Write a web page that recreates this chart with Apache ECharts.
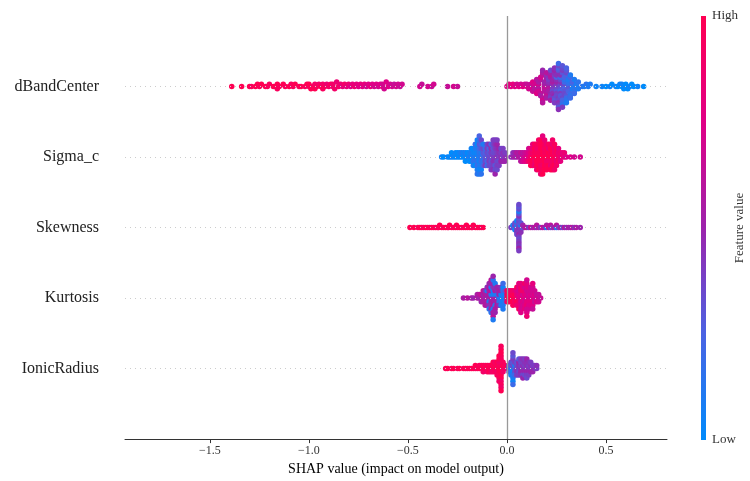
<!DOCTYPE html>
<html>
<head>
<meta charset="utf-8">
<script src="https://cdn.jsdelivr.net/npm/echarts@6/dist/echarts.min.js"></script>
<style>html,body{margin:0;padding:0;background:#fff}#c{width:750px;height:481px}</style>
</head>
<body>
<div id="c"></div>
<script>
// Features, top to bottom
const features = ['dBandCenter', 'Sigma_c', 'Skewness', 'Kurtosis', 'IonicRadius'];
const xTicks = [-1.5, -1.0, -0.5, 0.0, 0.5];
const colorLabels = ['High', 'Low'];
// Each point: [SHAP value, normalized feature value (0 = low, 1 = high)]
const dBandCenterPts = [
[-1.39,1],[-1.34,1],[-1.30,1],[-1.29,.95],[-1.27,1],[-1.26,1],[-1.25,.95],[-1.24,1],[-1.22,1],[-1.21,.95],[-1.20,.95],[-1.18,1],[-1.17,1],[-1.16,1],[-1.16,.95],[-1.15,.95],[-1.13,1],[-1.12,.95],[-1.10,1],[-1.09,.95],[-1.08,.95],[-1.07,1],[-1.05,.95],[-1.04,1],[-1.02,.95],[-1.01,1],[-1.00,.9],[-1.00,1],[-0.99,1],[-0.98,.95],[-0.97,.9],[-0.97,1],[-0.96,.95],[-0.95,.9],[-0.94,1],[-0.93,.9],[-0.93,.95],[-0.92,.95],[-0.91,.85],[-0.90,.9],[-0.89,.95],[-0.88,.85],[-0.88,.9],[-0.87,.9],[-0.86,.85],[-0.85,.9],[-0.84,.85],[-0.83,.8],[-0.82,.9],[-0.81,.8],[-0.80,.85],[-0.79,.75],[-0.78,.8],[-0.77,.85],[-0.76,.8],[-0.75,.75],[-0.74,.8],[-0.73,.75],[-0.72,.8],[-0.71,.7],[-0.70,.75],[-0.69,.8],[-0.68,.75],[-0.67,.7],[-0.66,.75],[-0.65,.7],[-0.64,.75],[-0.63,.8],[-0.63,.7],[-0.62,.7],[-0.61,.75],[-0.60,.75],[-0.59,.7],[-0.58,.7],[-0.57,.65],[-0.56,.7],[-0.55,.7],[-0.54,.65],[-0.53,.7],
[-0.44,.7],[-0.43,.65],[-0.40,.7],[-0.38,.65],[-0.37,.7],[-0.30,.65],[-0.27,.7],[-0.25,.65],
[0.00,.75],[0.01,.8],[0.02,.75],[0.03,.8],[0.04,.75],[0.05,.7],[0.06,.75],[0.07,.7],[0.08,.75],[0.09,.7],[0.10,.75],[0.10,.65],[0.11,.7],
[0.12,.7],[0.12,.65],
[0.13,.7],[0.13,.75],[0.13,.65],
[0.14,.65],[0.14,.7],[0.14,.6],
[0.15,.7],[0.15,.65],[0.15,.6],[0.15,.75],
[0.16,.65],[0.16,.7],[0.16,.6],[0.16,.55],[0.16,.7],
[0.17,.6],[0.17,.65],[0.17,.7],[0.17,.55],
[0.18,.65],[0.18,.6],[0.18,.55],[0.18,.7],[0.18,.5],[0.18,.6],
[0.19,.6],[0.19,.55],[0.19,.65],[0.19,.5],[0.19,.6],
[0.20,.55],[0.20,.6],[0.20,.5],[0.20,.65],[0.20,.45],[0.20,.55],[0.20,.6],
[0.21,.55],[0.21,.5],[0.21,.6],[0.21,.45],[0.21,.55],[0.21,.4],
[0.22,.5],[0.22,.55],[0.22,.45],[0.22,.6],[0.22,.4],[0.22,.5],[0.22,.55],[0.22,.35],
[0.23,.5],[0.23,.45],[0.23,.4],[0.23,.55],[0.23,.35],[0.23,.5],[0.23,.45],
[0.24,.45],[0.24,.5],[0.24,.4],[0.24,.35],[0.24,.45],[0.24,.3],[0.24,.5],[0.24,.4],[0.24,.45],
[0.25,.45],[0.25,.4],[0.25,.35],[0.25,.5],[0.25,.3],[0.25,.45],[0.25,.4],[0.25,.25],[0.25,.35],[0.25,.45],
[0.26,.4],[0.26,.45],[0.26,.35],[0.26,.3],[0.26,.45],[0.26,.25],[0.26,.4],[0.26,.35],[0.26,.3],[0.26,.2],[0.26,.45],
[0.27,.4],[0.27,.35],[0.27,.3],[0.27,.45],[0.27,.25],[0.27,.35],[0.27,.4],[0.27,.2],[0.27,.3],[0.27,.45],
[0.28,.35],[0.28,.3],[0.28,.25],[0.28,.4],[0.28,.2],[0.28,.35],[0.28,.15],[0.28,.3],[0.28,.4],
[0.29,.3],[0.29,.35],[0.29,.25],[0.29,.2],[0.29,.3],[0.29,.15],[0.29,.35],[0.29,.25],
[0.30,.3],[0.30,.25],[0.30,.2],[0.30,.35],[0.30,.15],[0.30,.3],[0.30,.1],[0.30,.25],
[0.31,.25],[0.31,.2],[0.31,.3],[0.31,.15],[0.31,.25],[0.31,.1],
[0.32,.2],[0.32,.25],[0.32,.15],[0.32,.1],[0.32,.2],
[0.33,.2],[0.33,.15],[0.33,.1],[0.33,.25],
[0.34,.15],[0.34,.1],[0.34,.2],
[0.35,.15],[0.35,.1],
[0.36,.1],[0.36,.15],
[0.38,.15],[0.39,.1],[0.40,.15],[0.41,.1],[0.42,.1],[0.45,.05],[0.48,.05],[0.50,0],[0.52,.05],[0.53,0],[0.55,.05],[0.56,0],[0.57,.05],[0.58,0],[0.58,.05],[0.59,0],[0.60,.05],[0.60,0],[0.61,0],[0.62,.05],[0.63,0],[0.64,0],[0.66,.05],[0.69,0]
];
const sigmaCPts = [
[-0.33,.05],[-0.32,0],[-0.30,.05],[-0.29,0],[-0.28,.05],[-0.28,0],[-0.27,.05],[-0.26,0],[-0.26,.05],[-0.25,.05],[-0.25,0],[-0.24,0],[-0.24,.05],[-0.23,.05],[-0.23,.1],[-0.22,0],[-0.22,.05],
[-0.21,.05],[-0.21,.1],[-0.21,0],[-0.20,.05],[-0.20,0],[-0.19,.1],[-0.19,.05],[-0.19,0],
[-0.18,.05],[-0.18,.1],[-0.18,0],[-0.18,.05],
[-0.17,.1],[-0.17,.05],[-0.17,.15],[-0.17,0],[-0.17,.1],
[-0.16,.1],[-0.16,.05],[-0.16,.15],[-0.16,.1],[-0.16,0],[-0.16,.2],
[-0.15,.1],[-0.15,.05],[-0.15,.15],[-0.15,.1],[-0.15,.2],[-0.15,0],[-0.15,.1],[-0.15,.05],[-0.15,.15],
[-0.14,.1],[-0.14,.15],[-0.14,.05],[-0.14,.2],[-0.14,.1],[-0.14,.3],[-0.14,.05],[-0.14,.15],[-0.14,.1],[-0.14,.25],
[-0.13,.15],[-0.13,.1],[-0.13,.2],[-0.13,.3],[-0.13,.1],[-0.13,.25],[-0.13,.05],[-0.13,.35],[-0.13,.15],
[-0.12,.2],[-0.12,.3],[-0.12,.15],[-0.12,.35],[-0.12,.25],[-0.12,.1],
[-0.11,.3],[-0.11,.25],[-0.11,.35],[-0.11,.2],[-0.11,.4],
[-0.10,.3],[-0.10,.35],[-0.10,.25],[-0.10,.4],[-0.10,.2],[-0.10,.35],
[-0.09,.35],[-0.09,.3],[-0.09,.4],[-0.09,.25],[-0.09,.35],[-0.09,.45],
[-0.08,.35],[-0.08,.4],[-0.08,.3],[-0.08,.45],[-0.08,.35],[-0.08,.25],[-0.08,.4],
[-0.07,.4],[-0.07,.35],[-0.07,.45],[-0.07,.3],[-0.07,.4],[-0.07,.35],[-0.07,.45],[-0.07,.4],
[-0.06,.4],[-0.06,.35],[-0.06,.45],[-0.06,.4],[-0.06,.3],[-0.06,.45],[-0.06,.35],[-0.06,.4],[-0.06,.5],
[-0.05,.45],[-0.05,.4],[-0.05,.35],[-0.05,.45],[-0.05,.4],[-0.05,.5],[-0.05,.35],[-0.05,.4],
[-0.04,.4],[-0.04,.45],[-0.04,.35],[-0.04,.5],[-0.04,.4],
[-0.03,.45],[-0.03,.4],[-0.03,.5],[-0.03,.35],
[-0.02,.4],[-0.02,.45],[-0.02,.5],[-0.02,.4],
[-0.01,.45],[-0.01,.4],[-0.01,.5],
[0.02,.45],[0.03,.5],[0.03,.45],[0.04,.55],[0.04,.5],[0.05,.5],[0.05,.6],[0.06,.6],[0.06,.55],
[0.07,.55],[0.07,.65],[0.07,.6],[0.08,.65],[0.08,.6],[0.08,.7],[0.09,.7],[0.09,.65],[0.09,.75],
[0.10,.75],[0.10,.7],[0.10,.8],[0.11,.8],[0.11,.75],[0.11,.9],[0.11,.7],
[0.12,.9],[0.12,.85],[0.12,.95],[0.12,.8],[0.12,1],
[0.13,.95],[0.13,.9],[0.13,1],[0.13,.85],[0.13,.95],[0.13,.8],
[0.14,1],[0.14,.95],[0.14,.9],[0.14,1],[0.14,.85],[0.14,.95],
[0.15,1],[0.15,.95],[0.15,1],[0.15,.9],[0.15,1],[0.15,.95],[0.15,.85],
[0.16,1],[0.16,.95],[0.16,1],[0.16,.9],[0.16,1],[0.16,.95],[0.16,1],[0.16,.9],
[0.17,1],[0.17,.95],[0.17,1],[0.17,1],[0.17,.9],[0.17,1],[0.17,.95],[0.17,1],[0.17,.85],
[0.18,1],[0.18,1],[0.18,.95],[0.18,1],[0.18,.9],[0.18,1],[0.18,.95],[0.18,1],[0.18,1],[0.18,.8],
[0.19,1],[0.19,.95],[0.19,1],[0.19,.9],[0.19,1],[0.19,.95],[0.19,1],[0.19,.85],
[0.20,1],[0.20,.95],[0.20,.9],[0.20,1],[0.20,.95],[0.20,.85],[0.20,1],
[0.21,.95],[0.21,1],[0.21,.9],[0.21,.85],[0.21,1],[0.21,.95],
[0.22,1],[0.22,.95],[0.22,.9],[0.22,1],[0.22,.85],[0.22,.95],[0.22,1],
[0.23,.95],[0.23,1],[0.23,.9],[0.23,1],[0.23,.95],[0.23,.85],[0.23,1],[0.23,.9],
[0.24,1],[0.24,.9],[0.24,.95],[0.24,.85],[0.24,1],[0.24,.95],[0.24,.9],
[0.25,.9],[0.25,.95],[0.25,.85],[0.25,1],[0.25,.9],
[0.26,.9],[0.26,.85],[0.26,.95],[0.26,.8],
[0.27,.85],[0.27,.9],[0.27,.8],[0.28,.85],[0.28,.8],[0.29,.8],[0.29,.85],
[0.30,.75],[0.32,.75],[0.34,.7],[0.37,.7]
];
const skewnessPts = [
[-0.49,1],[-0.47,1],[-0.45,.95],[-0.44,1],[-0.43,1],[-0.42,.95],[-0.41,1],[-0.40,1],[-0.39,.95],[-0.38,1],[-0.37,1],[-0.36,.95],[-0.35,1],[-0.345,.95],[-0.34,1],[-0.33,1],[-0.32,.95],[-0.31,1],[-0.30,1],[-0.295,.95],[-0.29,1],[-0.28,1],[-0.27,.95],[-0.26,1],[-0.255,1],[-0.25,.95],[-0.24,1],[-0.23,1],[-0.22,.95],[-0.21,1],[-0.205,1],[-0.20,.95],[-0.19,1],[-0.18,1],[-0.175,.95],[-0.17,1],[-0.16,.95],[-0.15,1],[-0.14,1],[-0.13,.95],[-0.12,1],
[0.02,.4],
[0.03,.35],[0.03,.1],
[0.04,.3],[0.04,.4],[0.04,.05],[0.04,.35],
[0.05,.35],[0.05,.1],[0.05,.4],[0.05,.3],[0.05,.45],[0.05,.05],[0.05,.35],
[0.06,.4],[0.06,.35],[0.06,.45],[0.06,.3],[0.06,.4],[0.06,.35],[0.06,.5],[0.06,.3],[0.06,.4],[0.06,.45],[0.06,.35],[0.06,.3],[0.06,.4],[0.06,.1],[0.06,.45],[0.06,.35],[0.06,.4],[0.06,.3],[0.06,.5],[0.06,.35],[0.06,.4],
[0.07,.35],[0.07,.1],[0.07,.4],[0.07,.3],[0.07,.45],
[0.08,.3],[0.08,.5],
[0.09,.55],[0.10,.6],[0.11,.4],[0.12,.65],[0.13,.5],[0.14,.6],[0.15,.45],[0.15,.6],[0.16,.55],[0.17,.4],[0.18,.65],[0.19,.5],[0.20,.1],[0.20,.55],[0.21,.6],[0.22,.35],[0.22,.6],[0.23,.45],[0.24,.55],[0.25,.1],[0.25,.6],[0.26,.4],[0.27,.55],[0.28,.35],[0.29,.6],[0.30,.45],[0.31,.55],[0.32,.5],[0.33,.6],[0.34,.45],[0.35,.55],[0.37,.5]
];
const kurtosisPts = [
[-0.22,.55],[-0.20,.6],[-0.18,.55],[-0.17,.5],[-0.15,.6],[-0.15,.55],
[-0.14,.5],[-0.14,.6],
[-0.13,.55],[-0.13,.65],[-0.13,.5],
[-0.12,.6],[-0.12,.5],[-0.12,.55],[-0.12,.65],
[-0.11,.5],[-0.11,.6],[-0.11,.55],[-0.11,.45],[-0.11,.6],
[-0.10,.55],[-0.10,.5],[-0.10,.6],[-0.10,.1],[-0.10,.55],[-0.10,.45],
[-0.09,.5],[-0.09,.6],[-0.09,.1],[-0.09,.55],[-0.09,.45],[-0.09,.6],[-0.09,.15],[-0.09,.5],
[-0.08,.55],[-0.08,.1],[-0.08,.5],[-0.08,.6],[-0.08,.45],[-0.08,.1],[-0.08,.55],[-0.08,.5],[-0.08,.15],[-0.08,.6],
[-0.07,.5],[-0.07,.1],[-0.07,.55],[-0.07,.05],[-0.07,.6],[-0.07,.45],[-0.07,.1],[-0.07,.5],[-0.07,.55],[-0.07,.15],[-0.07,.6],[-0.07,.5],[-0.07,.1],
[-0.06,.55],[-0.06,.1],[-0.06,.5],[-0.06,.6],[-0.06,.15],[-0.06,.45],[-0.06,.55],[-0.06,.1],[-0.06,.5],
[-0.05,.5],[-0.05,.1],[-0.05,.55],[-0.05,.45],[-0.05,.6],[-0.05,.5],
[-0.04,.1],[-0.04,.5],[-0.04,.15],[-0.04,.55],[-0.04,.45],
[-0.03,.1],[-0.03,.05],[-0.03,.15],[-0.03,.5],[-0.03,.1],[-0.03,.45],
[-0.02,.05],[-0.02,.1],[-0.02,.05],[-0.02,.15],[-0.02,.1],[-0.02,.05],[-0.02,.1],[-0.02,.2],
[-0.01,.1],[-0.01,.05],[-0.01,.15],[-0.01,.3],
[0.00,1],[0.00,.95],[0.00,.9],[0.00,1],
[0.01,1],[0.01,.95],[0.01,1],[0.01,.9],
[0.02,1],[0.02,1],[0.02,.95],[0.02,.9],
[0.03,1],[0.03,.95],[0.03,1],[0.03,.9],[0.03,.95],
[0.04,.95],[0.04,1],[0.04,.9],[0.04,.85],
[0.05,.9],[0.05,.8],[0.05,1],[0.05,.75],[0.05,.85],[0.05,.95],
[0.06,.8],[0.06,.75],[0.06,.9],[0.06,.7],[0.06,.85],[0.06,.75],[0.06,.95],[0.06,.8],
[0.07,.75],[0.07,.8],[0.07,.7],[0.07,.85],[0.07,.75],[0.07,.9],[0.07,.7],[0.07,.8],[0.07,.75],
[0.08,.8],[0.08,.7],[0.08,.75],[0.08,.9],[0.08,.7],[0.08,.8],
[0.09,.75],[0.09,.8],[0.09,.7],[0.09,.85],[0.09,.75],[0.09,.7],[0.09,.8],[0.09,.9],
[0.10,.7],[0.10,.75],[0.10,.8],[0.10,.7],[0.10,.85],[0.10,.75],[0.10,.7],[0.10,.8],[0.10,.75],[0.10,.7],[0.10,.85],
[0.11,.75],[0.11,.7],[0.11,.8],[0.11,.7],[0.11,.75],[0.11,.8],[0.11,.7],
[0.12,.7],[0.12,.75],[0.12,.8],[0.12,.7],[0.12,.75],[0.12,.7],
[0.13,.75],[0.13,.7],[0.13,.8],[0.13,.7],[0.13,.75],[0.13,.7],[0.13,.65],[0.13,.8],
[0.14,.7],[0.14,.75],[0.14,.65],[0.14,.7],
[0.15,.7],[0.15,.65],[0.15,.75],
[0.16,.7],[0.16,.65],[0.16,.7],
[0.17,.65]
];
const ionicRadiusPts = [
[-0.31,.95],[-0.30,1],[-0.28,.95],[-0.27,1],[-0.25,.95],[-0.24,1],[-0.22,.95],[-0.21,1],[-0.20,.95],[-0.19,1],[-0.18,.95],[-0.17,1],[-0.16,.95],[-0.16,1],[-0.15,.95],[-0.14,1],[-0.14,.95],
[-0.13,1],[-0.13,.95],
[-0.12,.95],[-0.12,1],[-0.12,.9],
[-0.11,1],[-0.11,.95],
[-0.10,.95],[-0.10,1],[-0.10,.9],
[-0.09,1],[-0.09,.95],[-0.09,1],
[-0.08,.95],[-0.08,1],[-0.08,.9],
[-0.07,1],[-0.07,.95],[-0.07,.9],[-0.07,1],
[-0.06,.95],[-0.06,1],[-0.06,.95],[-0.06,.9],
[-0.05,1],[-0.05,.95],[-0.05,.9],[-0.05,1],[-0.05,.95],
[-0.04,1],[-0.04,.95],[-0.04,1],[-0.04,.9],[-0.04,.95],[-0.04,1],[-0.04,.95],[-0.04,1],[-0.04,.9],
[-0.03,1],[-0.03,.95],[-0.03,1],[-0.03,.9],[-0.03,1],[-0.03,.95],[-0.03,1],[-0.03,.95],[-0.03,.9],[-0.03,1],[-0.03,.95],[-0.03,1],[-0.03,.9],[-0.03,.95],[-0.03,1],
[-0.02,.95],[-0.02,1],[-0.02,.9],[-0.02,.95],
[-0.01,.9],[-0.01,.95],
[0.01,.3],[0.01,.2],[0.01,.35],
[0.02,.1],[0.02,.3],[0.02,.15],[0.02,.35],[0.02,.05],
[0.03,.1],[0.03,.35],[0.03,.05],[0.03,.3],[0.03,.15],[0.03,.4],[0.03,.1],[0.03,.3],[0.03,.05],[0.03,.35],[0.03,.2],
[0.04,.3],[0.04,.1],[0.04,.35],[0.04,.4],[0.04,.2],
[0.05,.4],[0.05,.35],[0.05,.45],[0.05,.3],[0.05,.4],
[0.06,.4],[0.06,.45],[0.06,.35],[0.06,.5],[0.06,.4],[0.06,.3],
[0.07,.45],[0.07,.4],[0.07,.5],[0.07,.35],[0.07,.45],[0.07,.4],
[0.08,.4],[0.08,.45],[0.08,.5],[0.08,.4],[0.08,.35],[0.08,.45],[0.08,.5],
[0.09,.45],[0.09,.4],[0.09,.5],[0.09,.45],[0.09,.35],[0.09,.4],
[0.10,.4],[0.10,.45],[0.10,.5],[0.10,.45],[0.10,.4],[0.10,.5],[0.10,.35],
[0.11,.45],[0.11,.4],[0.11,.5],[0.11,.45],[0.11,.4],
[0.12,.4],[0.12,.45],[0.12,.5],[0.12,.4],
[0.13,.45],[0.13,.4],[0.13,.5],
[0.14,.45],[0.14,.4],
[0.15,.4],[0.15,.45]
];
const pointsByFeature = [dBandCenterPts, sigmaCPts, skewnessPts, kurtosisPts, ionicRadiusPts];

// shap-style beeswarm stacking (100 bins over each row's range, deterministic order),
// returns vertical offsets in row units
function swarmOffsets(pts) {
  const n = pts.length, nbins = 100;
  const xs = pts.map(p => p[0]);
  const lo = Math.min(...xs), hi = Math.max(...xs);
  const q = xs.map(x => Math.round(nbins * (x - lo) / (hi - lo + 1e-8)));
  const idx = pts.map((_, i) => i).sort((a, b) => (q[a] - q[b]) || (a - b));
  const ys = new Array(n).fill(0);
  let layer = 0, last = null;
  for (const i of idx) {
    if (q[i] !== last) layer = 0;
    ys[i] = Math.ceil(layer / 2) * ((layer % 2) * 2 - 1);
    layer++; last = q[i];
  }
  const m = Math.max(...ys.map(y => y + 1));
  return ys.map(y => y * 0.36 / m);
}

const nF = features.length;
const scatterSeries = pointsByFeature.map((pts, fi) => {
  const pos = nF - 1 - fi;
  const off = swarmOffsets(pts);
  return {
    type: 'scatter', name: features[fi], z: 3,
    symbolSize: 5.5, itemStyle: { opacity: 1 },
    data: pts.map((p, i) => [p[0], pos + off[i], p[1]])
  };
});

const cmap = ['#008bfc', '#4b63e3', '#9c23ac', '#e00086', '#ff0052'];
const serif = 'Liberation Serif, Times New Roman, serif';
const chart = echarts.init(document.getElementById('c'));
chart.setOption({
  backgroundColor: '#fff',
  animation: false,
  grid: { left: 125, right: 83, top: 16, bottom: 40 },
  xAxis: {
    type: 'value', min: -1.929, max: 0.808,
    name: 'SHAP value (impact on model output)', nameLocation: 'middle', nameGap: 21,
    nameTextStyle: { fontFamily: serif, fontSize: 14, color: '#000' },
    axisLine: { onZero: false, lineStyle: { color: '#333', width: 1 } },
    axisTick: { length: 4, lineStyle: { color: '#333' }, customValues: xTicks },
    axisLabel: { fontFamily: serif, fontSize: 12, color: '#333', margin: 6, customValues: xTicks,
      formatter: v => (v < 0 ? '\u2212' : '') + Math.abs(v).toFixed(1) },
    splitLine: { show: false }
  },
  yAxis: {
    type: 'value', min: -1, max: nF, interval: 1,
    axisLine: { show: false }, axisTick: { show: false }, splitLine: { show: false },
    axisLabel: { fontFamily: serif, fontSize: 16, color: '#222', margin: 26,
      formatter: v => (v >= 0 && v < nF) ? features[nF - 1 - v] : '' }
  },
  visualMap: {
    show: false, type: 'continuous', dimension: 2, min: 0, max: 1,
    seriesIndex: scatterSeries.map((_, i) => i + 1),
    inRange: { color: cmap }
  },
  graphic: [
    { type: 'rect', shape: { x: 701, y: 16, width: 5, height: 424 },
      style: { fill: new echarts.graphic.LinearGradient(0, 0, 0, 1,
        cmap.slice().reverse().map((c, i) => ({ offset: i / (cmap.length - 1), color: c }))) } },
    { type: 'text', x: 712, y: 16, style: { text: colorLabels[0], font: '13px ' + serif, fill: '#333', verticalAlign: 'middle' } },
    { type: 'text', x: 712, y: 440, style: { text: colorLabels[1], font: '13px ' + serif, fill: '#333', verticalAlign: 'middle' } },
    { type: 'text', x: 740, y: 228, rotation: Math.PI / 2,
      style: { text: 'Feature value', font: '13px ' + serif, fill: '#333', align: 'center', verticalAlign: 'middle' } }
  ],
  series: [{
    type: 'scatter', z: 1, data: [], silent: true,
    markLine: {
      silent: true, symbol: 'none', label: { show: false },
      data: features.map((f, i) => ({ yAxis: i, lineStyle: { color: '#cccccc', width: 1, type: [1, 4] } }))
        .concat([{ xAxis: 0, lineStyle: { color: '#999999', width: 1.3, type: 'solid' } }])
    }
  }].concat(scatterSeries)
});
</script>
</body>
</html>
